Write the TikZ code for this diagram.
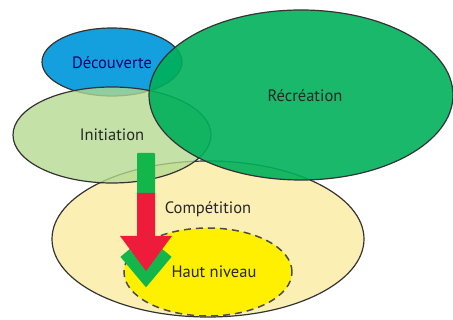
\documentclass[tikz,border=0pt]{standalone}
\usepackage{fontspec}
\setmainfont{PT Sans}
\usepackage{tikz}
\usetikzlibrary{shapes.geometric,positioning}

\definecolor{decouv}{HTML}{14A0DE}
\definecolor{initi}{HTML}{B4DA90}
\definecolor{recre}{HTML}{00B05A}
\definecolor{compet}{HTML}{FCEFB4}
\definecolor{hautniv}{HTML}{FFF000}
\definecolor{flechev}{HTML}{12B64A}
\definecolor{flecher}{HTML}{EE1C3A}

\begin{document}
\begin{tikzpicture}[x=1pt,y=-1pt,
  zone/.style={ellipse,draw=black!80,line width=1.2pt,inner sep=0pt},
  lbl/.style={font=\fontsize{16.5}{18}\selectfont,text=black!85}]
  \useasboundingbox (0,0) rectangle (453,320);

  % ensembles
  \node [zone,fill=compet,minimum width=312,minimum height=156] (compet) at (208,239) {};
  \node [zone,fill=decouv,minimum width=140,minimum height=68] (decouv) at (112,62) {};
  \node [zone,fill=initi,fill opacity=.78,minimum width=198,minimum height=96] (initi) at (112,135) {};
  \node [zone,fill=recre,fill opacity=.9,minimum width=304,minimum height=170] (recre) at (301,95) {};
  \node [zone,fill=hautniv,draw=black!70,line width=1.5pt,dash pattern=on 7pt off 5pt,minimum width=168,minimum height=88] (hautniv) at (208,272) {};

  % textes
  \node [lbl,text=blue!45!black] (tdecouv) at (112,63) {Découverte};
  \node [lbl] (tinit) at (112,135) {Initiation};
  \node [lbl] (trecre) at (305,96) {Récréation};
  \node [lbl] (tcompet) at (208,209) {Compétition};
  \node [lbl] (thaut) at (214,272) {Haut niveau};

  % fleche
  \draw [flechev,line width=12pt,line join=miter] (125,253) -- (146,278) -- (167,253);
  \fill [flechev,rounded corners=1pt] (137,153) rectangle (155,194);
  \fill [flecher] (137,193) -- (155,193) -- (155,236) -- (172,236)
    -- (146,271) -- (120,236) -- (137,236) -- cycle;
\end{tikzpicture}
\end{document}
